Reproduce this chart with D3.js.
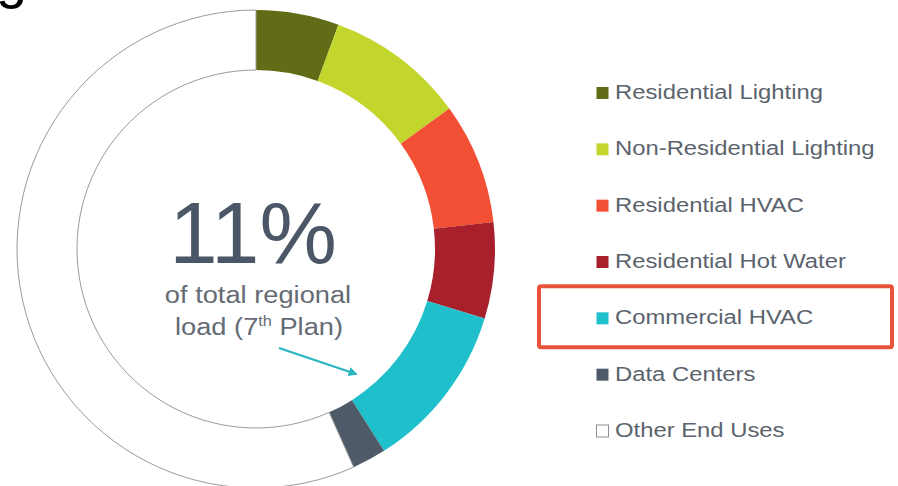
<!DOCTYPE html>
<html><head><meta charset="utf-8">
<script src="https://cdn.jsdelivr.net/npm/d3@7"></script>
<style>html,body{margin:0;padding:0;background:#fff;overflow:hidden}</style>
</head><body>
<svg id="chart" width="898" height="486"></svg>
<script>
const categories = ["Residential Lighting","Non-Residential Lighting","Residential HVAC","Residential Hot Water","Commercial HVAC","Data Centers","Other End Uses"];
const values = [5.6, 9.4, 8.2, 6.5, 11.3, 2.3, 56.7];
const colors = ["#626c16","#c3d62e","#f24f35","#a7202c","#1fbfcb","#4e5a68","#ffffff"];
const centerValue = "11%";
const centerLines = ["of total regional", "load (7"];
const highlighted = "Commercial HVAC";

const svg = d3.select("#chart");
const cx = 256, cy = 249, rOuter = 239, rInner = 179;

// cut-off title glyph at top-left
svg.append("text").attr("x", -4).attr("y", -3).attr("font-family","Liberation Sans, Arial, sans-serif")
  .attr("font-size", 56).attr("fill","#000").text("g");

const data = categories.map((c,i)=>({name:c, value:values[i], color:colors[i]}));
const pie = d3.pie().value(d=>d.value).sort(null);
const arc = d3.arc().innerRadius(rInner).outerRadius(rOuter);
const g = svg.append("g").attr("transform",`translate(${cx},${cy})`);
g.selectAll("path").data(pie(data)).join("path")
  .attr("d", arc)
  .attr("fill", d=>d.data.color)
  .attr("stroke", d=>d.data.name==="Other End Uses" ? "#9a9a9a" : "none")
  .attr("stroke-width", 1);

// center text
const font = "Liberation Sans, Arial, Helvetica, sans-serif";
svg.append("text").attr("x", cx-3).attr("y", 263).attr("text-anchor","middle")
  .attr("font-family", font).attr("font-size", 87).attr("fill","#4b5767").text(centerValue);
svg.append("text").attr("text-anchor","middle").attr("transform",`translate(${cx+2},303) scale(1.16,1)`)
  .attr("font-family", font).attr("font-size", 23.5).attr("fill","#646b74").text(centerLines[0]);
const t2 = svg.append("text").attr("text-anchor","middle").attr("transform",`translate(${cx+3},335) scale(1.16,1)`)
  .attr("font-family", font).attr("font-size", 23.5).attr("fill","#646b74");
t2.append("tspan").text(centerLines[1]);
t2.append("tspan").attr("font-size", 14).attr("dy", -9).text("th");
t2.append("tspan").attr("dy", 9).text(" Plan)");

// arrow
const defs = svg.append("defs");
defs.append("marker").attr("id","ah").attr("viewBox","0 0 10 10").attr("refX",8).attr("refY",5)
  .attr("markerWidth",4).attr("markerHeight",4).attr("orient","auto")
  .append("path").attr("d","M0,0L10,5L0,10z").attr("fill","#2bb5c0");
svg.append("line").attr("x1",279).attr("y1",348).attr("x2",356).attr("y2",374)
  .attr("stroke","#2bb5c0").attr("stroke-width",2.3).attr("marker-end","url(#ah)");

// legend
const legendY = d3.scalePoint().domain(categories).range([93, 431]);
const lg = svg.append("g");
const items = lg.selectAll("g").data(data).join("g")
  .attr("transform", d=>`translate(596,${legendY(d.name)})`);
items.append("rect").attr("x",0.5).attr("y",-6).attr("width",12).attr("height",12)
  .attr("fill", d=>d.color).attr("stroke", d=>d.name==="Other End Uses" ? "#8a8f96" : "none").attr("stroke-width",1);
items.append("text").attr("transform","translate(19,6) scale(1.135,1)").attr("font-family",font).attr("font-size",21)
  .attr("fill","#5b636d").text(d=>d.name);

// highlight box
const hy = legendY(highlighted);
svg.append("rect").attr("x",539).attr("y",hy-32).attr("width",353).attr("height",61).attr("rx",2)
  .attr("fill","none").attr("stroke","#e9533d").attr("stroke-width",4);
</script>
</body></html>
